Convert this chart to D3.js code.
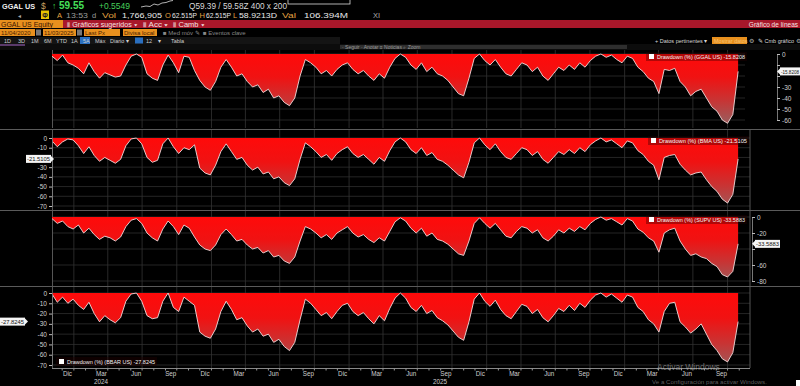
<!DOCTYPE html>
<html><head><meta charset="utf-8">
<script src="https://cdn.jsdelivr.net/npm/d3@7"></script>
<style>html,body{margin:0;padding:0;background:#000;overflow:hidden}svg{display:block;font-family:"Liberation Sans",Arial,sans-serif}</style>
</head><body><svg id="c" width="800" height="386"></svg>
<script>
// ---------------- DATA ----------------
const startDate = "2020-11-04", endDate = "2025-11-03";
const stepDays = 14; // one observation every two weeks
const ggal = [-2,-6,-1,-8,-10,-13,-18,-8,-16,-22,-17,-19,-21,-20,-10,-2,0,-3,-18,-22,-24,-10,-1,-8,-17,-2,-3,-15,-24,
  -30,-33,-25,-12,-5,-12,-20,-18,-25,-30,-28,-35,-32,-40,-38,-44,-47,-40,-20,-5,-8,-12,-18,-15,-20,-14,-10,-8,-14,-18,-15,
  -20,-24,-18,-22,-12,-4,0,-3,-10,-14,-8,-16,-12,-18,-20,-24,-30,-36,-38,-22,-4,0,-6,-10,-5,-12,-18,-20,-14,-8,
  -10,-16,-12,-20,-24,-18,-12,-15,-10,-14,-8,-12,-6,-2,0,-3,-1,-5,-8,-2,-4,-12,-16,-22,-25,-36,-14,-15,-13,-25,
  -30,-38,-34,-32,-40,-48,-52,-60,-63,-55,-15.8208];
const bma = [-3,-9,-4,-1,-2,-8,-16,-9,-18,-24,-20,-23,-26,-22,-8,-1,0,-6,-20,-25,-23,-6,0,-9,-16,-10,-12,-7,-31,
  -36,-38,-28,-14,-6,-14,-22,-20,-28,-33,-30,-37,-35,-42,-40,-46,-49,-42,-22,-5,-9,-14,-20,-17,-23,-16,-12,-9,-16,-20,-17,
  -22,-27,-20,-24,-13,-4,0,-4,-12,-16,-10,-18,-15,-22,-24,-28,-33,-38,-41,-25,-5,0,-7,-12,-6,-14,-20,-22,-16,-10,
  -12,-18,-14,-22,-26,-20,-14,-17,-12,-16,-10,-14,-7,-3,0,-4,-2,-6,-10,-3,-5,-13,-17,-24,-28,-43,-20,-18,-17,-27,
  -33,-38,-36,-35,-43,-50,-55,-63,-67,-58,-21.5105];
const supv = [-2,-8,-5,-12,-15,-10,-20,-14,-22,-28,-24,-26,-30,-25,-12,-4,-2,-8,-20,-26,-30,-15,-5,-12,-22,-10,-14,-25,-35,
  -40,-42,-35,-22,-15,-22,-30,-28,-35,-40,-38,-45,-42,-50,-48,-55,-58,-50,-30,-12,-15,-20,-26,-22,-28,-20,-16,-12,-20,-25,-22,
  -28,-32,-26,-30,-18,-6,-1,-5,-14,-20,-14,-24,-20,-28,-30,-34,-40,-46,-48,-30,-8,-1,-8,-14,-8,-16,-24,-26,-18,-12,
  -14,-20,-16,-26,-30,-24,-16,-20,-14,-18,-12,-16,-8,-3,0,-4,-2,-6,-10,-2,-5,-15,-19,-26,-30,-44,-20,-16,-14,-30,
  -40,-48,-46,-50,-52,-58,-62,-72,-75,-68,-33.5883];
const bbar = [-1,-9,-4,-10,-6,-12,-16,-9,-20,-28,-22,-26,-29,-24,-8,-1,0,-8,-22,-25,-24,-8,0,-14,-18,-4,-8,-12,-38,
  -42,-44,-35,-18,-8,-16,-26,-24,-32,-38,-35,-42,-40,-48,-45,-52,-56,-48,-26,-6,-10,-16,-22,-19,-25,-18,-12,-10,-18,-22,-19,
  -25,-30,-22,-27,-15,-5,0,-5,-14,-18,-12,-20,-17,-24,-27,-31,-37,-43,-46,-28,-6,0,-8,-13,-7,-16,-22,-25,-18,-11,
  -13,-20,-16,-24,-28,-22,-15,-18,-12,-17,-10,-14,-7,-2,0,-4,-1,-5,-9,-2,-4,-14,-18,-26,-30,-38,-18,-10,-9,-28,
  -33,-39,-35,-30,-40,-50,-56,-64,-67,-58,-27.8245];
const tickers = ["GGAL US","BMA US","SUPV US","BBAR US"];
const lastLabels = ["-15.8208","-21.5105","-33.5883","-27.8245"];
const yTicks1 = [0,-10,-20,-30,-40,-50,-60];
const yTicks2 = [0,-10,-20,-30,-40,-50,-60,-70];
const yTicks3 = [0,-20,-40,-60,-80];
const yTicks4 = [0,-10,-20,-30,-40,-50,-60,-70];
const monthLabels = {11:"Dic",2:"Mar",5:"Jun",8:"Sep"};
const yearLabels = ["2024","2025"];
const yearLabelDates = ["2021-03-14","2023-08-30"];

// ---------------- SETUP ----------------
const svg = d3.select("#c");
const defs = svg.append("defs");
const parse = d3.timeParse("%Y-%m-%d");
const t0 = parse(startDate), t1 = parse(endDate);
const dates = d3.range(ggal.length).map(i => d3.timeDay.offset(t0, i*stepDays));
const x = d3.scaleTime().domain([t0, t1]).range([52, 740]);

svg.append("rect").attr("width",800).attr("height",386).attr("fill","#000");

// ---------------- HEADER ----------------
function txt(xp, yp, s, fill, size, weight, anchor, len){
  const t = svg.append("text").attr("x",xp).attr("y",yp).text(s).attr("fill",fill)
    .attr("font-size",size).attr("font-weight",weight||"normal").attr("text-anchor",anchor||"start");
  if(len) t.attr("textLength",len).attr("lengthAdjust","spacingAndGlyphs");
  return t;
}
txt(2,8.5,"GGAL US","#f0f0f0",8,"bold",null,33);
txt(41,8.5,"$","#c8a060",8.5);
txt(52,8.5,"↑","#3ad04a",8.5,"bold");
txt(59,8.8,"59.55","#46e05a",10,"bold",null,25);
txt(99,8.5,"+0.5549","#46d05a",8.5,null,null,31);
svg.append("polyline").attr("points","141,7 146,6 150,6.5 154,4 158,5 162,3 166,2.5 170,1 173,0.5")
  .attr("fill","none").attr("stroke","#ddd").attr("stroke-width",0.8);
txt(189,8.5,"Q59.39 / 59.58Z  400 x 200","#d8d8d8",8.5,null,null,98);
svg.append("rect").attr("x",288).attr("y",-2).attr("width",62).attr("height",6).attr("fill","#000").attr("stroke","#ddd").attr("stroke-width",0.8);
txt(17,18,"◄","#aaa",5);
svg.append("rect").attr("x",41).attr("y",10.5).attr("width",8).attr("height",8.5).attr("fill","#e8c400");
txt(45,17.5,"Ф","#222",6.5,"bold","middle");
txt(57,18,"A","#e2a040",7.5);
txt(66,18,"13:53","#9a9a9a",7.5,null,null,22);
txt(92,18,"d","#9a9a9a",7.5);
txt(102,18,"Vol","#e2a040",7.5,null,null,14);
txt(122,18,"1,766,905","#e8e8e8",7.5,null,null,40);
txt(165,18,"O","#e2a040",7.5);
txt(172,18,"62.515P","#e8e8e8",7,null,null,25);
txt(199.5,18,"H","#e2a040",7.5);
txt(206,18,"62.515P","#e8e8e8",7,null,null,25);
txt(233,18,"L","#e2a040",7.5);
txt(239,18,"58.9213D","#e8e8e8",7,null,null,38);
txt(282,18,"Val","#e2a040",7.5,null,null,14);
txt(304,18,"106.394M","#e8e8e8",7.5,null,null,44);
txt(373,18,"XI","#aaa",7.5);
// red band
svg.append("rect").attr("x",0).attr("y",20).attr("width",800).attr("height",8).attr("fill","#a8172a");
svg.append("rect").attr("x",0).attr("y",20).attr("width",63).attr("height",8).attr("fill","#e8901e");
txt(1,26.5,"GGAL US Equity","#3a1400",6.5,null,null,52);
txt(67,26.5,"⫴ Gráficos sugeridos ▾","#f4e4e4",6.5,null,null,70);
txt(143,26.5,"⫴ Acc ▾","#f4e4e4",6.5,null,null,25);
txt(173,26.5,"⫴ Camb ▾","#f4e4e4",6.5,null,null,31);
txt(798,26.5,"Gráfico de líneas","#f4e4e4",6.5,"normal","end");
// row 4
[[0,35,"11/04/2020"],[43,76,"11/03/2025"],[84,120,"Last Px"],[123,157,"Divisa local"]].forEach(b=>{
  svg.append("rect").attr("x",b[0]).attr("y",29).attr("width",b[1]-b[0]).attr("height",7).attr("fill","#e8901e");
  txt(b[0]+1,34.7,b[2],"#4a1d00",6);
});
svg.append("rect").attr("x",36).attr("y",29.5).attr("width",5).attr("height",6).attr("fill","#777");
svg.append("rect").attr("x",77).attr("y",29.5).attr("width",5).attr("height",6).attr("fill","#777");
txt(163,34.7,"■ Med móv ✎","#888",6);
txt(203,34.7,"■ Eventos clave","#888",6);
// row 5
svg.append("rect").attr("x",0).attr("y",37).attr("width",340).attr("height",7).attr("fill","#141414");
[[4,"1D"],[18,"3D"],[31,"1M"],[44,"6M"],[56,"YTD"],[71,"1A"],[83,"5A"],[95,"Máx"],[110,"Diario ▾"],[146,"12"],[158,"▾"],[171,"Tabla"]].forEach(b=>{
  if(b[1]==="5A") svg.append("rect").attr("x",80).attr("y",37).attr("width",10).attr("height",7).attr("fill","#2a6fc0");
  txt(b[0],42.5,b[1],"#cfcfcf",5.5);
});
svg.append("rect").attr("x",135).attr("y",37.5).attr("width",8).attr("height",6).attr("fill","#2a6fc0");
txt(655,42.5,"+ Datos pertinentes ▾","#d8d8d8",5.5);
svg.append("rect").attr("x",712).attr("y",37).attr("width",35).attr("height",7).attr("fill","#e8901e");
txt(714,42.5,"Mostrar datos","#f6c070",5.5);
txt(749,42.5,"⚙","#aaa",5.5);
txt(758,42.5,"✎ Cmb gráfico","#d8d8d8",5.5);
txt(796,42.5,"⚙","#aaa",5.5);
// row 6
svg.append("rect").attr("x",0).attr("y",44).attr("width",800).attr("height",6).attr("fill","#0c0c0c");
svg.append("rect").attr("x",0).attr("y",44).attr("width",25).attr("height",2).attr("fill","#5a3a6a");
svg.append("rect").attr("x",340).attr("y",45).attr("width",287).attr("height",4).attr("fill","#2e2e2e");
txt(342,48.8,"· Seguir   · Anotar   ≡ Noticias   ⌕ Zoom","#9a9a9a",5);

// ---------------- PANELS ----------------
const panels = [
  {values:ggal, ticks:yTicks1, top:50, bottom:128, zeroY:54, minY:120, side:"right", axisX:777, border:null, legend:[646,52], box:"right"},
  {values:bma,  ticks:yTicks2, top:130, bottom:210, zeroY:138, minY:206, side:"left", axisX:52, border:750, legend:[648,136], box:"left"},
  {values:supv, ticks:yTicks3, top:211, bottom:286, zeroY:217, minY:281, side:"right", axisX:752, border:750, legend:[646,215], box:"right"},
  {values:bbar, ticks:yTicks4, top:287, bottom:368, zeroY:293, minY:365, side:"left", axisX:52, border:750, legend:[56,357], box:"leftfar"}
];
const quarters = d3.timeMonth.every(3).range(t0, t1);
const months = d3.timeMonth.range(t0, t1);

[129.5, 210.5, 286.5].forEach(yy => svg.append("line").attr("x1",0).attr("x2",800).attr("y1",yy).attr("y2",yy).attr("stroke","#5a5a5a").attr("stroke-width",1));

panels.forEach((p,k) => {
  const y = d3.scaleLinear().domain([0, p.ticks[p.ticks.length-1]]).range([p.zeroY, p.minY]);
  const g = svg.append("g");
  const gridRight = p.border || 745;
  const yv = y(p.values[p.values.length-1]);
  p.ticks.forEach(t => g.append("line").attr("x1",52).attr("x2",gridRight).attr("y1",y(t)).attr("y2",y(t)).attr("stroke","#2e2e2e").attr("stroke-width",0.8));
  quarters.forEach(d => g.append("line").attr("x1",x(d)).attr("x2",x(d)).attr("y1",p.top).attr("y2",p.bottom).attr("stroke","#333").attr("stroke-width",0.8));
  g.append("line").attr("x1",52.5).attr("x2",52.5).attr("y1",p.top).attr("y2",p.bottom).attr("stroke","#555");
  if(p.border) g.append("line").attr("x1",p.border).attr("x2",p.border).attr("y1",p.top).attr("y2",p.bottom).attr("stroke","#555");
  defs.append("clipPath").attr("id","cl"+k).append("rect").attr("x",52).attr("y",p.top).attr("width",690).attr("height",p.bottom-p.top);
  const grad = defs.append("linearGradient").attr("id","gr"+k).attr("gradientUnits","userSpaceOnUse")
    .attr("x1",0).attr("x2",0).attr("y1",p.zeroY).attr("y2",p.minY);
  grad.append("stop").attr("offset",0).attr("stop-color","#ff0a0a");
  grad.append("stop").attr("offset",0.35).attr("stop-color","#f01212");
  grad.append("stop").attr("offset",0.7).attr("stop-color","#c83434");
  grad.append("stop").attr("offset",1).attr("stop-color","#a05858");
  const area = d3.area().x((d,i)=>x(dates[i])).y0(y(0)).y1(d=>y(d));
  const line = d3.line().x((d,i)=>x(dates[i])).y(d=>y(d));
  g.append("path").datum(p.values).attr("d",area).attr("fill","url(#gr"+k+")").attr("clip-path","url(#cl"+k+")");
  g.append("path").datum(p.values).attr("d",line).attr("fill","none").attr("stroke","#f4dcdc").attr("stroke-width",0.9).attr("clip-path","url(#cl"+k+")");
  const boxOverlaps = t => p.box !== "leftfar" && Math.abs(y(t) - yv) < 6.5;
  const axis = (p.side==="right" ? d3.axisRight(y) : d3.axisLeft(y)).tickValues(p.ticks).tickSize(3).tickPadding(2)
    .tickFormat(d => boxOverlaps(d) ? "" : String(d));
  const ag = svg.append("g").attr("transform","translate("+p.axisX+",0)").call(axis);
  ag.select(".domain").attr("stroke","#777");
  ag.selectAll(".tick line").attr("stroke","#bbb");
  ag.selectAll("text").attr("fill","#d0d0d0").attr("font-size",6.5).attr("font-family","Liberation Sans, Arial");
  const lg = svg.append("g").attr("transform","translate("+p.legend[0]+","+p.legend[1]+")");
  lg.append("rect").attr("width",101).attr("height",9).attr("fill","rgba(40,0,0,0.35)");
  lg.append("rect").attr("x",3).attr("y",2).attr("width",5).attr("height",5).attr("fill","#fff");
  lg.append("text").attr("x",11).attr("y",7).attr("fill","#f4f4f4").attr("font-size",6.2)
    .attr("textLength",88).attr("lengthAdjust","spacingAndGlyphs")
    .text("Drawdown (%) ("+tickers[k]+") "+lastLabels[k]);
  let bx, bw = 25;
  if(p.box==="right") bx = p.axisX+3; else if(p.box==="left") bx = 26; else bx = 0;
  if(bx + bw > 800) bw = 800 - bx;
  svg.append("path").attr("d", p.box==="right" ? `M${bx-3},${yv} L${bx},${yv-3} L${bx},${yv+3} Z` : `M${bx+bw+3},${yv} L${bx+bw},${yv-3} L${bx+bw},${yv+3} Z`).attr("fill","#f4f4f4");
  svg.append("rect").attr("x",bx).attr("y",yv-4).attr("width",bw).attr("height",8).attr("fill","#f4f4f4");
  svg.append("text").attr("x",bx+1).attr("y",yv+2.3).attr("fill","#111").attr("font-size",bw < 25 ? 5 : 6.2)
    .attr("textLength",bw-2).attr("lengthAdjust","spacingAndGlyphs").text(lastLabels[k]);
});

// ---------------- X AXIS ----------------
const xa = svg.append("g");
xa.append("line").attr("x1",52).attr("x2",750).attr("y1",368.5).attr("y2",368.5).attr("stroke","#888");
months.forEach(d => xa.append("line").attr("x1",x(d)).attr("x2",x(d)).attr("y1",368.5).attr("y2",370.5).attr("stroke","#999"));
months.filter(d => monthLabels[d.getMonth()] !== undefined).forEach(d => {
  const mid = d3.timeDay.offset(d, 14);
  xa.append("text").attr("x",x(mid)).attr("y",376).attr("text-anchor","middle").attr("fill","#cfcfcf").attr("font-size",6.3).text(monthLabels[d.getMonth()]);
});
yearLabels.forEach((s,i) => xa.append("text").attr("x",x(parse(yearLabelDates[i]))).attr("y",384).attr("text-anchor","middle").attr("fill","#cfcfcf").attr("font-size",6.3).text(s));

// watermark (semi-transparent, as in the screenshot)
txt(657,369.5,"Activar Windows","rgba(210,210,210,0.5)",8.5);
txt(652,384,"Ve a Configuración para activar Windows.","rgba(210,210,210,0.45)",6.2);
svg.append("rect").attr("x",796).attr("y",380).attr("width",4).attr("height",6).attr("fill","#fff");
</script></body></html>
